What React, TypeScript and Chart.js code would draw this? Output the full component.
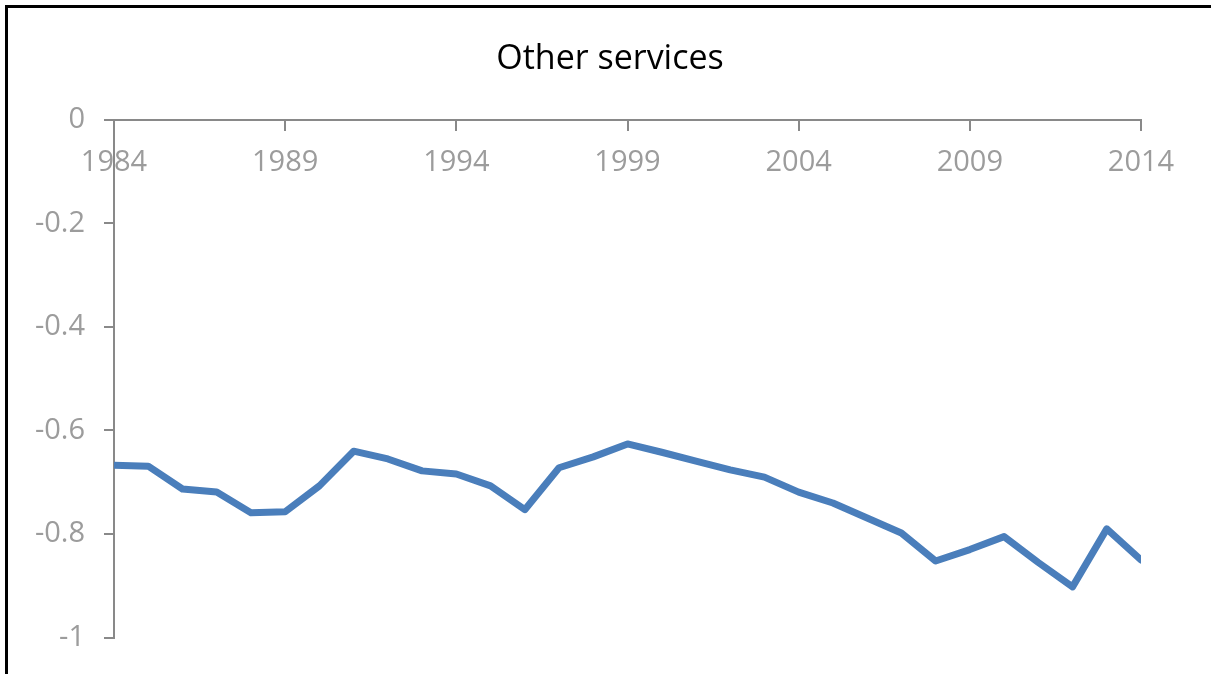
import React, { useEffect, useRef } from "react";
import { Chart, registerables } from "chart.js";

Chart.register(...registerables);

const TITLE = "Other services";
const YEARS = [
  1984, 1985, 1986, 1987, 1988, 1989, 1990, 1991, 1992, 1993, 1994, 1995, 1996, 1997, 1998, 1999,
  2000, 2001, 2002, 2003, 2004, 2005, 2006, 2007, 2008, 2009, 2010, 2011, 2012, 2013, 2014,
];
const VALUES = [
  -0.667, -0.669, -0.713, -0.719, -0.759, -0.757, -0.707, -0.64, -0.655, -0.678, -0.684, -0.707,
  -0.753, -0.672, -0.651, -0.626, -0.642, -0.659, -0.676, -0.69, -0.719, -0.74, -0.769, -0.798,
  -0.852, -0.83, -0.805, -0.855, -0.902, -0.79, -0.85,
];
const X_TICKS = [1984, 1989, 1994, 1999, 2004, 2009, 2014];
const Y_MIN = -1;
const Y_MAX = 0;
const Y_STEP = 0.2;

const AXIS_COLOR = "#898989";
const LABEL_COLOR = "#9c9c9c";
const LINE_COLOR = "#4a7ebb";
const FONT = "'Open Sans', 'Noto Sans', sans-serif";

const titleShift = {
  id: "titleShift",
  afterLayout(chart: any) {
    const t = chart.titleBlock;
    if (t) {
      const shift = 610 - (t.left + t.right) / 2;
      t.left += shift;
      t.right += shift;
    }
  },
};

export default function App() {
  const canvasRef = useRef<HTMLCanvasElement | null>(null);

  useEffect(() => {
    const canvas = canvasRef.current;
    if (!canvas) return;
    const chart = new Chart(canvas, {
      type: "line",
      data: {
        datasets: [
          {
            label: TITLE,
            data: YEARS.map((y, i) => ({ x: y, y: VALUES[i] })),
            borderColor: LINE_COLOR,
            borderWidth: 7,
            pointRadius: 0,
            borderCapStyle: "round",
            borderJoinStyle: "round",
            tension: 0,
            fill: false,
          },
        ],
      },
      plugins: [titleShift],
      options: {
        animation: false,
        responsive: false,
        maintainAspectRatio: false,
        devicePixelRatio: 1,
        layout: { padding: { left: 0, right: 70, top: 0, bottom: 35 } },
        plugins: {
          legend: { display: false },
          tooltip: { enabled: false },
          title: {
            display: true,
            text: TITLE,
            color: "#000",
            font: { family: FONT, size: 34, weight: "normal" },
            padding: { top: 39, bottom: 40 },
          },
        },
        scales: {
          x: {
            type: "linear",
            position: { y: 0 } as any,
            min: YEARS[0],
            max: YEARS[YEARS.length - 1],
            afterBuildTicks: (axis: any) => {
              axis.ticks = X_TICKS.map((v) => ({ value: v }));
            },
            grid: {
              drawOnChartArea: false,
              drawTicks: true,
              tickLength: 10,
              color: AXIS_COLOR,
              lineWidth: 2,
            },
            border: { display: true, color: AXIS_COLOR, width: 2 },
            ticks: {
              color: LABEL_COLOR,
              font: { family: FONT, size: 29 },
              padding: 16,
              maxRotation: 0,
              autoSkip: false,
              callback: (v: any) => String(v),
            },
          },
          y: {
            type: "linear",
            min: Y_MIN,
            max: Y_MAX,
            afterFit: (axis: any) => {
              axis.width = 114;
            },
            grid: {
              drawOnChartArea: false,
              drawTicks: true,
              tickLength: 10,
              color: AXIS_COLOR,
              lineWidth: 2,
            },
            border: { display: true, color: AXIS_COLOR, width: 2 },
            ticks: {
              stepSize: Y_STEP,
              color: LABEL_COLOR,
              font: { family: FONT, size: 29 },
              padding: 19,
              callback: (v: any) => String(Math.round(Number(v) * 10) / 10),
            },
          },
        },
      },
    });
    return () => chart.destroy();
  }, []);

  return (
    <div
      style={{
        position: "fixed",
        left: 0,
        top: 0,
        width: 1211,
        height: 674,
        overflow: "hidden",
        background: "#fff",
      }}
    >
      <div
        style={{
          position: "absolute",
          left: 5,
          top: 5,
          width: 1260,
          height: 720,
          border: "3px solid #000",
          boxSizing: "border-box",
        }}
      />
      <canvas
        ref={canvasRef}
        width={1211}
        height={674}
        style={{ position: "absolute", left: 0, top: 0, width: 1211, height: 674 }}
      />
    </div>
  );
}
